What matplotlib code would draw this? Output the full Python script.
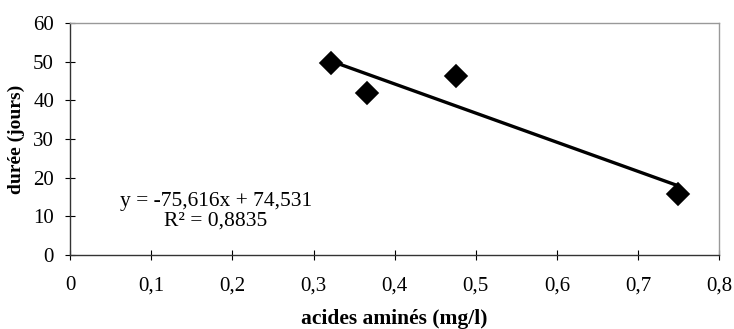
import matplotlib
matplotlib.use("Agg")
import matplotlib.pyplot as plt
import numpy as np

x_vals = [0.322, 0.366, 0.475, 0.749]
y_vals = [49.8, 42.0, 46.3, 15.8]
slope = -75.616
intercept = 74.531
x_ticks = [0, 0.1, 0.2, 0.3, 0.4, 0.5, 0.6, 0.7, 0.8]
x_tick_labels = ["0", "0,1", "0,2", "0,3", "0,4", "0,5", "0,6", "0,7", "0,8"]
y_ticks = [0, 10, 20, 30, 40, 50, 60]

plt.rcParams['font.family'] = ['Liberation Serif', 'DejaVu Serif']

fig = plt.figure(figsize=(7.34, 3.29), dpi=100)
ax = fig.add_axes([0.0954, 0.2258, 0.98 - 0.0954, 0.929 - 0.2258])

xl = np.array([min(x_vals), max(x_vals)])
ax.plot(xl, slope * xl + intercept, color='black', lw=2.4, solid_capstyle='round', zorder=2)
ax.plot(x_vals, y_vals, linestyle='none', marker='D', ms=11, color='black',
        markeredgewidth=1.2, markeredgecolor='black', zorder=3)

ax.set_xlim(0, 0.8)
ax.set_ylim(0, 60)
ax.set_xticks(x_ticks)
ax.set_xticklabels(x_tick_labels)
ax.set_yticks(y_ticks)
ax.tick_params(axis='both', direction='inout', length=7, width=0.8, labelsize=15, colors='black')
ax.tick_params(axis='x', pad=12)
ax.tick_params(axis='y', pad=8)

for s in ['left', 'bottom']:
    ax.spines[s].set_color('#333333')
    ax.spines[s].set_linewidth(1.0)
for s in ['top', 'right']:
    ax.spines[s].set_color('#999999')
    ax.spines[s].set_linewidth(1.0)

ax.set_xlabel('acides aminés (mg/l)', fontsize=15.5, fontweight='bold', labelpad=10)
ax.set_ylabel('durée (jours)', fontsize=14, fontweight='bold', labelpad=6)

ax.text(0.18, 11.3, 'y = -75,616x + 74,531\nR\u00b2 = 0,8835', ha='center', va='center',
        fontsize=15.5, linespacing=1.05, transform=ax.transData)

fig.savefig('out.png', dpi=100)
